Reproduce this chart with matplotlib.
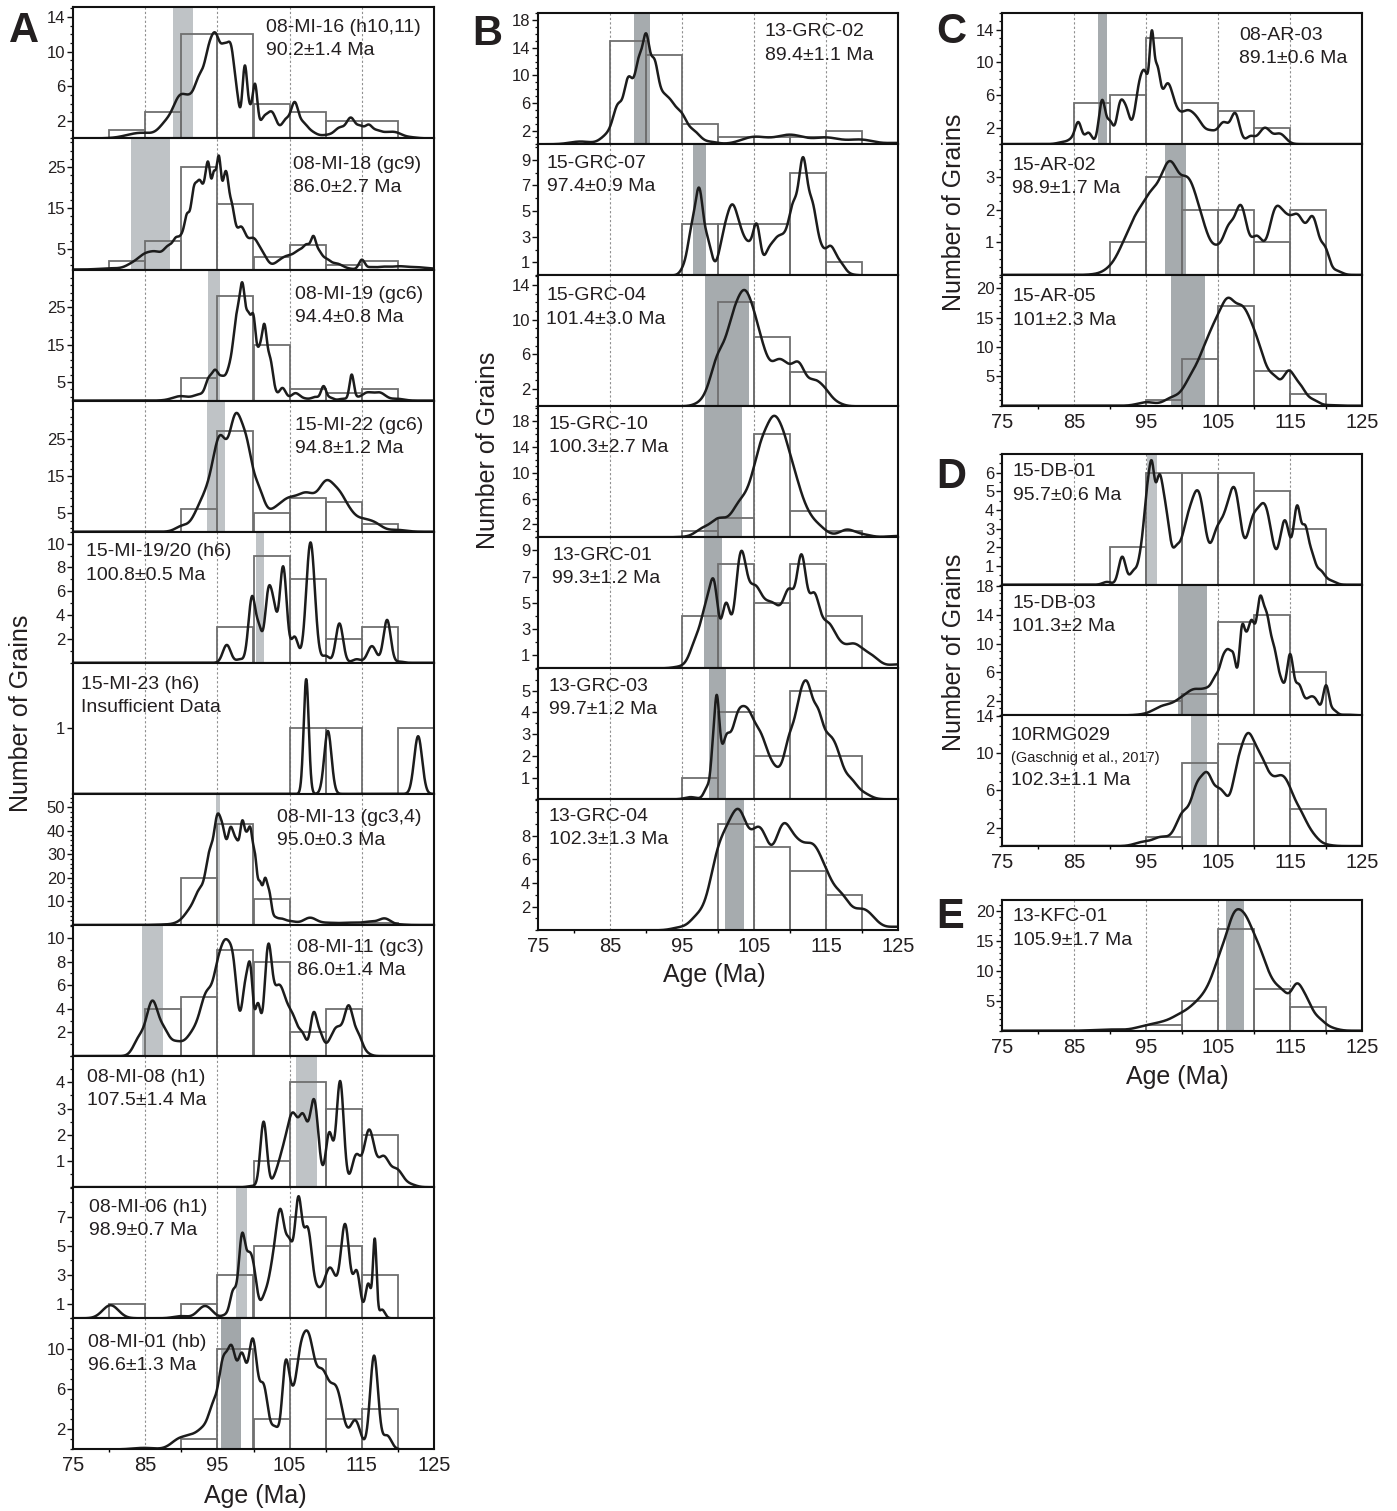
import numpy as np
import matplotlib
matplotlib.use("Agg")
import matplotlib.pyplot as plt
from matplotlib.ticker import FixedLocator, MultipleLocator

plt.rcParams['font.family'] = ['Liberation Sans', 'DejaVu Sans']

# ------------------------------------------------------------------ data
bin_left = [75, 80, 85, 90, 95, 100, 105, 110, 115, 120]
age_ticks = [75, 85, 95, 105, 115, 125]
guide_ages = [85, 95, 105, 115]

# KDE curves: ages (Ma), curve heights, kernel widths (Ma)
# ---- column A
mi16_text = ["08-MI-16 (h10,11)", "90.2±1.4 Ma"]
mi16_counts = [0, 1, 3, 12, 12, 4, 3, 2, 2, 0]
mi16_band = [88.8, 91.6]
mi16_kde_age = [84.5, 88.0, 89.8, 91.3, 92.6, 93.8, 94.8, 96.0, 97.0, 97.8, 98.8, 99.5, 100.2, 101.3, 102.5, 104.5, 105.7, 106.8, 107.9, 110.3, 112.0, 113.5, 114.8, 115.9, 117.0, 118.5, 119.8, 121.5]
mi16_kde_h = [0.65, 2.3, 5.0, 5.2, 7.5, 10.8, 12.1, 11.0, 10.3, 5.0, 8.4, 4.0, 6.3, 2.4, 3.1, 2.3, 4.2, 2.0, 1.0, 0.45, 1.3, 2.4, 1.5, 1.6, 1.0, 0.75, 0.7, 0.2]
mi16_kde_w = [2.0, 1.0, 0.9, 0.8, 0.7, 0.6, 0.6, 0.6, 0.5, 0.35, 0.35, 0.3, 0.35, 0.5, 0.7, 0.6, 0.5, 0.6, 0.8, 1.0, 0.7, 0.6, 0.5, 0.5, 0.7, 0.8, 0.8, 1.0]

mi18_text = ["08-MI-18 (gc9)", "86.0±2.7 Ma"]
mi18_counts = [0, 2, 7, 25, 16, 3, 6, 1, 2, 0]
mi18_band = [83.1, 88.4]
mi18_kde_age = [80.2, 83.4, 85.0, 86.6, 88.3, 89.4, 90.2, 90.8, 91.7, 92.6, 93.3, 93.8, 94.5, 95.2, 95.9, 96.3, 96.9, 98.2, 100.0, 101.4, 102.3, 103.7, 105.1, 106.5, 107.5, 108.3, 109.0, 110.0, 111.5, 113.0, 115.0, 116.2, 118.0, 120.3, 122.5, 124.5]
mi18_kde_h = [0.3, 2.0, 4.0, 4.4, 6.0, 8.0, 9.5, 13.7, 20.0, 21.8, 23.0, 25.8, 24.0, 27.8, 22.6, 23.5, 17.0, 10.5, 7.7, 4.0, 1.6, 2.5, 3.6, 5.0, 6.2, 8.2, 5.0, 2.8, 1.5, 0.4, 2.4, 0.6, 0.7, 0.8, 0.6, 0.3]
mi18_kde_w = [1.5, 1.0, 0.9, 0.9, 0.7, 0.5, 0.4, 0.35, 0.45, 0.45, 0.35, 0.35, 0.3, 0.35, 0.3, 0.3, 0.45, 0.7, 0.8, 0.6, 0.7, 0.9, 0.9, 0.7, 0.5, 0.35, 0.45, 0.6, 0.8, 0.8, 0.4, 0.6, 1.0, 1.0, 1.0, 1.0]

mi19_text = ["08-MI-19 (gc6)", "94.4±0.8 Ma"]
mi19_counts = [0, 0, 0, 6, 28, 15, 3, 2, 3, 0]
mi19_band = [93.7, 95.3]
mi19_kde_age = [88.0, 89.9, 92.6, 93.8, 94.7, 95.6, 96.8, 97.7, 98.5, 99.3, 100.0, 100.8, 101.5, 102.3, 103.0, 104.0, 104.6, 105.8, 107.2, 108.6, 109.7, 110.6, 112.5, 113.6, 114.3, 115.7, 117.5, 119.9]
mi19_kde_h = [0.3, 1.2, 1.8, 6.3, 8.3, 6.7, 11.2, 24.0, 31.5, 23.8, 23.0, 14.8, 20.6, 11.7, 3.6, 3.4, 1.8, 2.0, 0.6, 1.0, 3.9, 0.9, 0.5, 7.0, 1.3, 2.2, 2.2, 0.5]
mi19_kde_w = [1.2, 1.1, 0.9, 0.45, 0.45, 0.45, 0.6, 0.45, 0.4, 0.35, 0.35, 0.35, 0.35, 0.4, 0.4, 0.45, 0.45, 0.6, 0.7, 0.5, 0.35, 0.45, 0.7, 0.3, 0.35, 0.8, 0.8, 0.9]

mi22_text = ["15-MI-22 (gc6)", "94.8±1.2 Ma"]
mi22_counts = [0, 0, 0, 6, 27, 5, 9, 8, 2, 0]
mi22_band = [93.6, 96.0]
mi22_kde_age = [88.9, 90.1, 92.6, 94.0, 95.4, 97.5, 99.1, 100.7, 102.5, 104.6, 107.4, 110.2, 112.0, 113.4, 115.0, 116.6, 119.9]
mi22_kde_h = [0.1, 1.9, 8.1, 16.0, 26.0, 31.8, 25.0, 12.6, 6.2, 9.0, 10.6, 13.9, 10.8, 6.3, 3.7, 2.8, 0.5]
mi22_kde_w = [0.8, 0.9, 1.0, 0.9, 0.9, 0.9, 0.8, 0.8, 1.0, 1.3, 1.4, 1.1, 0.9, 0.9, 0.9, 1.1, 1.2]

mi1920_text = ["15-MI-19/20 (h6)", "100.8±0.5 Ma"]
mi1920_counts = [0, 0, 0, 0, 3, 9, 7, 2, 3, 0]
mi1920_band = [100.4, 101.4]
mi1920_kde_age = [92.2, 96.3, 98.1, 99.8, 100.8, 102.1, 102.9, 104.1, 105.7, 107.9, 110.0, 111.9, 114.3, 116.4, 118.5, 120.3]
mi1920_kde_h = [0.0, 1.5, 0.3, 5.6, 3.2, 6.4, 5.0, 8.1, 2.2, 10.1, 0.6, 3.3, 0.3, 1.4, 3.6, 0.1]
mi1920_kde_w = [1.0, 0.55, 0.5, 0.5, 0.4, 0.5, 0.4, 0.5, 0.5, 0.6, 0.5, 0.5, 0.6, 0.6, 0.5, 0.5]

mi23_text = ["15-MI-23 (h6)", "Insufficient Data"]
mi23_counts = [0, 0, 0, 0, 0, 0, 1, 1, 0, 1]
mi23_band = None
mi23_kde_age = [107.3, 110.3, 122.8]
mi23_kde_h = [1.75, 0.96, 0.88]
mi23_kde_w = [0.35, 0.5, 0.55]

mi13_text = ["08-MI-13 (gc3,4)", "95.0±0.3 Ma"]
mi13_counts = [0, 0, 0, 20, 43, 11, 0, 0, 1, 0]
mi13_band = [94.8, 95.3]
mi13_kde_age = [80.2, 88.0, 90.1, 91.3, 92.6, 94.0, 95.0, 95.8, 96.8, 97.7, 98.5, 99.1, 99.6, 100.2, 100.9, 101.6, 102.2, 102.9, 103.7, 105.1, 107.8, 110.2, 113.4, 116.2, 118.2, 120.3]
mi13_kde_h = [0.0, 0.3, 3.0, 8.0, 15.8, 32.7, 47.0, 41.5, 41.5, 36.2, 44.4, 39.7, 41.1, 30.6, 18.6, 20.0, 14.4, 3.8, 2.8, 1.7, 3.1, 1.0, 1.0, 1.5, 2.8, 0.3]
mi13_kde_w = [2.0, 1.5, 0.9, 0.8, 0.7, 0.6, 0.45, 0.45, 0.45, 0.45, 0.35, 0.3, 0.3, 0.3, 0.3, 0.3, 0.3, 0.35, 0.6, 0.9, 0.9, 1.2, 1.4, 1.0, 0.8, 0.8]

mi11_text = ["08-MI-11 (gc3)", "86.0±1.4 Ma"]
mi11_counts = [0, 0, 4, 5, 9, 8, 2, 4, 0, 0]
mi11_band = [84.6, 87.4]
mi11_kde_age = [79.9, 84.2, 86.0, 87.6, 89.2, 91.7, 93.6, 95.2, 96.2, 97.2, 98.9, 99.6, 100.6, 102.0, 103.2, 104.1, 105.5, 106.9, 108.3, 109.2, 110.4, 111.6, 113.2, 114.5, 115.7]
mi11_kde_h = [0.0, 1.8, 4.7, 2.5, 1.3, 2.4, 5.6, 8.6, 9.9, 8.4, 6.6, 7.6, 4.5, 9.4, 6.0, 5.5, 3.5, 1.9, 3.7, 2.2, 1.3, 2.5, 4.3, 2.0, 0.4]
mi11_kde_w = [1.0, 0.8, 0.8, 0.7, 0.9, 1.1, 0.9, 0.7, 0.6, 0.6, 0.5, 0.35, 0.4, 0.5, 0.8, 0.8, 0.8, 0.5, 0.45, 0.5, 0.6, 0.8, 0.6, 0.6, 0.6]

mi08_text = ["08-MI-08 (h1)", "107.5±1.4 Ma"]
mi08_counts = [0, 0, 0, 0, 0, 1, 4, 3, 2, 0]
mi08_band = [105.9, 108.8]
mi08_kde_age = [99.8, 101.4, 103.0, 104.2, 105.5, 106.9, 108.4, 110.5, 112.0, 114.2, 116.0, 118.0, 119.9, 121.7]
mi08_kde_h = [0.05, 2.5, 0.55, 1.7, 2.85, 2.8, 3.35, 2.1, 4.05, 1.25, 2.2, 1.2, 0.7, 0.15]
mi08_kde_w = [0.6, 0.45, 0.5, 0.8, 0.7, 0.6, 0.6, 0.5, 0.5, 0.6, 0.7, 0.8, 0.8, 0.8]

mi06_text = ["08-MI-06 (h1)", "98.9±0.7 Ma"]
mi06_counts = [0, 1, 0, 1, 3, 5, 7, 5, 3, 0]
mi06_band = [97.6, 99.1]
mi06_kde_age = [75.0, 80.2, 84.8, 89.9, 93.3, 96.1, 97.2, 98.4, 99.3, 100.0, 101.4, 102.7, 103.8, 105.0, 106.2, 107.5, 108.8, 110.6, 112.7, 114.3, 115.9, 116.8, 117.8, 119.2]
mi06_kde_h = [0.0, 0.9, 0.0, 0.15, 0.85, 0.3, 2.0, 5.85, 4.6, 3.8, 1.6, 4.5, 7.5, 5.5, 8.4, 6.3, 2.3, 3.5, 6.5, 3.3, 2.4, 5.5, 0.6, 0.0]
mi06_kde_w = [1.0, 1.1, 1.0, 1.0, 1.0, 0.5, 0.45, 0.45, 0.45, 0.5, 0.5, 0.7, 0.6, 0.5, 0.5, 0.6, 0.6, 0.9, 0.6, 0.5, 0.4, 0.25, 0.4, 0.6]

mi01_text = ["08-MI-01 (hb)", "96.6±1.3 Ma"]
mi01_counts = [0, 0, 0, 1, 10, 3, 9, 3, 4, 0]
mi01_band = [95.5, 98.2]
mi01_kde_age = [80.2, 84.8, 89.9, 91.7, 93.1, 94.5, 95.8, 97.0, 98.4, 99.9, 101.4, 103.0, 104.4, 105.1, 106.3, 107.6, 109.5, 111.5, 114.1, 116.7, 118.5, 120.1]
mi01_kde_h = [0.0, 0.15, 1.2, 1.6, 2.4, 4.9, 9.2, 10.3, 9.6, 11.0, 6.5, 2.3, 8.7, 7.0, 9.5, 11.6, 8.0, 6.2, 2.9, 9.3, 1.4, 0.0]
mi01_kde_w = [1.5, 1.5, 1.2, 0.9, 0.8, 0.7, 0.6, 0.6, 0.6, 0.6, 0.6, 0.6, 0.45, 0.45, 0.7, 0.8, 0.9, 0.9, 0.7, 0.55, 0.6, 0.8]

# ---- column B
grc02_text = ["13-GRC-02", "89.4±1.1 Ma"]
grc02_counts = [0, 0, 15, 13, 3, 1, 1, 1, 2, 0]
grc02_band = [88.4, 90.6]
grc02_kde_age = [75.0, 80.9, 84.8, 86.2, 87.4, 88.1, 89.0, 90.0, 91.1, 92.2, 93.4, 94.8, 96.6, 98.9, 100.1, 105.0, 110.0, 115.1, 119.8, 125.0]
grc02_kde_h = [0.0, 0.4, 2.1, 6.0, 9.5, 9.6, 12.7, 16.1, 12.5, 7.9, 6.5, 4.8, 2.1, 0.4, 0.2, 1.1, 1.4, 1.0, 0.7, 0.2]
grc02_kde_w = [2.0, 1.5, 1.0, 0.7, 0.5, 0.5, 0.5, 0.5, 0.55, 0.7, 0.7, 0.8, 0.9, 1.0, 1.0, 1.8, 2.0, 1.8, 1.8, 1.5]

grc07_text = ["15-GRC-07", "97.4±0.9 Ma"]
grc07_counts = [0, 0, 0, 0, 4, 4, 4, 8, 1, 0]
grc07_band = [96.5, 98.4]
grc07_kde_age = [93.8, 95.2, 96.4, 97.4, 98.5, 99.6, 100.8, 102.0, 103.2, 104.4, 105.4, 106.9, 108.2, 109.5, 110.5, 111.8, 113.1, 114.2, 115.6, 117.0, 118.6]
grc07_kde_h = [0.0, 0.85, 4.2, 6.8, 3.2, 0.7, 3.7, 5.5, 3.7, 2.7, 4.0, 2.0, 3.0, 3.7, 5.8, 9.2, 5.8, 2.7, 2.3, 1.1, 0.1]
grc07_kde_w = [0.6, 0.5, 0.6, 0.5, 0.6, 0.5, 0.7, 0.7, 0.7, 0.6, 0.5, 0.6, 0.8, 0.7, 0.6, 0.6, 0.6, 0.6, 0.7, 0.7, 0.6]

grc04_text = ["15-GRC-04", "101.4±3.0 Ma"]
grc04_counts = [0, 0, 0, 0, 0, 12, 8, 4, 0, 0]
grc04_band = [98.2, 104.3]
grc04_kde_age = [95.7, 98.0, 100.1, 102.2, 103.7, 105.0, 106.3, 108.2, 109.6, 111.2, 113.3, 114.9, 116.5, 119.8]
grc04_kde_h = [0.0, 1.3, 6.3, 11.2, 13.4, 11.0, 7.1, 5.4, 5.0, 5.1, 3.1, 2.1, 0.6, 0.0]
grc04_kde_w = [1.0, 1.1, 1.1, 1.0, 0.9, 0.9, 0.9, 1.0, 0.9, 0.9, 1.0, 0.9, 0.9, 1.0]

grc10_text = ["15-GRC-10", "100.3±2.7 Ma"]
grc10_counts = [0, 0, 0, 0, 1, 3, 16, 4, 1, 0]
grc10_band = [98.0, 103.3]
grc10_kde_age = [95.2, 98.0, 100.1, 101.7, 103.1, 105.0, 106.3, 107.7, 109.1, 110.5, 111.9, 113.7, 115.1, 117.9, 120.2, 125.0]
grc10_kde_h = [0.1, 1.6, 3.0, 3.6, 5.9, 11.0, 16.0, 18.8, 16.4, 11.0, 5.9, 2.4, 1.0, 1.2, 0.5, 0.2]
grc10_kde_w = [1.0, 1.1, 1.0, 0.9, 1.0, 1.0, 0.9, 0.9, 0.9, 0.9, 1.0, 1.0, 0.9, 1.1, 1.1, 1.5]

grc01_text = ["13-GRC-01", "99.3±1.2 Ma"]
grc01_counts = [0, 0, 0, 0, 4, 8, 5, 8, 4, 0]
grc01_band = [98.1, 100.6]
grc01_kde_age = [89.9, 94.8, 97.1, 98.5, 99.5, 101.1, 103.1, 105.0, 107.3, 108.7, 110.0, 111.6, 113.3, 115.1, 116.5, 118.8, 121.2, 125.0]
grc01_kde_h = [0.0, 0.2, 2.7, 5.5, 6.6, 5.0, 8.8, 6.4, 5.1, 4.9, 6.1, 8.7, 5.8, 3.6, 2.5, 1.9, 1.1, 0.3]
grc01_kde_w = [1.5, 1.0, 0.9, 0.7, 0.55, 0.6, 0.75, 1.1, 1.1, 0.9, 0.8, 0.65, 0.8, 0.9, 1.0, 1.2, 1.2, 1.3]

grc03_text = ["13-GRC-03", "99.7±1.2 Ma"]
grc03_counts = [0, 0, 0, 0, 1, 4, 2, 5, 2, 0]
grc03_band = [98.7, 101.1]
grc03_kde_age = [96.2, 98.6, 99.3, 99.8, 100.2, 101.0, 102.6, 104.2, 105.9, 107.3, 108.4, 110.0, 111.4, 112.5, 113.8, 115.1, 116.5, 118.4, 120.2, 125.0]
grc03_kde_h = [0.1, 0.7, 2.9, 4.8, 3.6, 2.85, 3.9, 4.15, 3.1, 1.9, 1.5, 3.1, 4.9, 5.35, 4.25, 3.1, 2.4, 1.0, 0.35, 0.0]
grc03_kde_w = [0.8, 0.5, 0.3, 0.3, 0.3, 0.6, 0.9, 0.9, 0.9, 0.8, 0.8, 0.8, 0.7, 0.7, 0.7, 0.9, 0.9, 0.9, 1.0, 1.0]

grc04b_text = ["13-GRC-04", "102.3±1.3 Ma"]
grc04b_counts = [0, 0, 0, 0, 0, 9, 7, 5, 3, 0]
grc04b_band = [101.0, 103.6]
grc04b_kde_age = [89.9, 94.8, 97.1, 98.9, 100.1, 101.5, 103.1, 105.0, 106.3, 108.9, 111.0, 112.3, 113.5, 115.1, 117.0, 120.2, 125.0]
grc04b_kde_h = [0.0, 0.3, 1.4, 4.2, 7.2, 9.2, 10.1, 8.6, 8.3, 8.9, 7.8, 7.4, 7.1, 5.1, 3.25, 1.8, 0.3]
grc04b_kde_w = [1.5, 1.2, 1.0, 1.0, 1.0, 1.0, 1.1, 1.0, 1.1, 1.2, 1.2, 1.1, 1.1, 1.0, 1.2, 1.5, 1.5]

# ---- column C
ar03_text = ["08-AR-03", "89.1±0.6 Ma"]
ar03_counts = [0, 0, 5, 6, 13, 5, 4, 2, 0, 0]
ar03_band = [88.4, 89.6]
ar03_kde_age = [80.3, 83.6, 84.7, 85.6, 87.0, 88.9, 90.0, 91.4, 92.3, 94.2, 95.1, 95.8, 96.5, 97.9, 99.3, 100.7, 102.1, 104.1, 105.8, 107.4, 109.5, 111.5, 113.6, 115.2]
ar03_kde_h = [0.0, 0.3, 0.9, 2.7, 1.4, 5.4, 2.9, 5.2, 4.5, 8.2, 8.6, 13.9, 9.8, 7.4, 4.55, 4.15, 3.3, 1.7, 2.7, 3.8, 1.0, 2.0, 1.3, 0.1]
ar03_kde_w = [1.0, 0.8, 0.5, 0.45, 0.5, 0.45, 0.45, 0.5, 0.5, 0.7, 0.5, 0.3, 0.45, 0.8, 0.8, 0.8, 0.9, 0.8, 0.7, 0.6, 0.6, 0.8, 0.8, 0.7]

ar02_text = ["15-AR-02", "98.9±1.7 Ma"]
ar02_counts = [0, 0, 0, 1, 3, 2, 2, 1, 2, 0]
ar02_band = [97.6, 100.5]
ar02_kde_age = [84.9, 88.2, 90.0, 91.9, 93.7, 95.6, 97.4, 98.8, 100.7, 102.1, 103.4, 104.9, 106.5, 108.2, 110.4, 112.9, 114.5, 116.2, 118.2, 119.9, 121.5]
ar02_kde_h = [0.0, 0.05, 0.3, 1.05, 1.9, 2.55, 3.2, 3.4, 3.0, 2.3, 1.35, 0.93, 1.55, 2.13, 1.2, 2.03, 1.88, 1.83, 1.78, 0.86, 0.14]
ar02_kde_w = [1.0, 1.0, 1.0, 1.1, 1.1, 1.1, 1.1, 1.1, 1.0, 1.0, 0.9, 0.8, 0.8, 0.8, 0.9, 0.9, 0.9, 0.9, 0.8, 0.6, 0.7]

ar05_text = ["15-AR-05", "101±2.3 Ma"]
ar05_counts = [0, 0, 0, 0, 1, 8, 17, 6, 2, 0]
ar05_band = [98.5, 103.2]
ar05_kde_age = [91.9, 95.1, 98.4, 99.5, 101.1, 103.0, 104.8, 106.5, 108.3, 109.9, 111.3, 112.9, 114.8, 116.4, 118.2, 120.6]
ar05_kde_h = [0.0, 0.6, 1.4, 2.1, 5.1, 10.0, 15.1, 18.4, 17.1, 13.4, 8.3, 5.1, 6.0, 3.7, 1.1, 0.1]
ar05_kde_w = [1.0, 1.2, 1.0, 0.9, 1.0, 1.1, 1.1, 1.0, 1.0, 1.0, 0.9, 0.8, 0.8, 0.8, 0.8, 1.0]

# ---- column D
db01_text = ["15-DB-01", "95.7±0.6 Ma"]
db01_counts = [0, 0, 0, 2, 6, 6, 6, 5, 3, 0]
db01_band = [95.1, 96.5]
db01_kde_age = [88.2, 89.6, 91.7, 93.3, 94.4, 95.1, 95.8, 96.7, 97.4, 98.1, 99.1, 100.7, 102.4, 104.7, 106.0, 107.4, 109.7, 111.5, 114.3, 116.0, 117.1, 118.0, 119.2, 120.6, 123.4]
db01_kde_h = [0.0, 0.15, 1.5, 0.8, 2.4, 5.1, 6.65, 5.8, 5.1, 3.3, 2.07, 3.65, 4.9, 2.95, 4.0, 5.1, 3.55, 4.3, 3.45, 4.25, 3.2, 1.85, 0.8, 0.25, 0.0]
db01_kde_w = [0.8, 0.6, 0.5, 0.5, 0.45, 0.4, 0.4, 0.45, 0.5, 0.45, 0.5, 0.95, 0.9, 0.7, 0.8, 0.8, 0.8, 1.0, 0.7, 0.5, 0.45, 0.5, 0.6, 0.7, 1.0]

db03_text = ["15-DB-03", "101.3±2 Ma"]
db03_counts = [0, 0, 0, 0, 2, 3, 13, 14, 6, 0]
db03_band = [99.5, 103.45]
db03_kde_age = [90.0, 94.9, 97.4, 100.2, 102.1, 103.7, 104.8, 105.8, 106.5, 107.2, 108.3, 109.0, 109.7, 110.8, 111.8, 112.8, 113.8, 115.0, 116.2, 117.8, 118.7, 120.0, 121.0, 122.9]
db03_kde_h = [0.0, 0.3, 1.4, 2.8, 3.7, 4.05, 5.8, 8.6, 9.2, 8.4, 12.4, 11.7, 13.3, 16.5, 14.2, 9.6, 5.1, 8.55, 4.4, 2.6, 2.1, 4.2, 0.9, 0.1]
db03_kde_w = [1.2, 1.3, 1.3, 1.3, 1.1, 0.8, 0.6, 0.5, 0.4, 0.4, 0.4, 0.4, 0.45, 0.5, 0.5, 0.5, 0.5, 0.45, 0.55, 0.7, 0.5, 0.4, 0.5, 0.8]

rmg_text = ["10RMG029", "(Gaschnig et al., 2017)", "102.3±1.1 Ma"]
rmg_counts = [0, 0, 0, 0, 1, 9, 11, 9, 4, 0]
rmg_band = [101.3, 103.45]
rmg_kde_age = [90.0, 94.7, 97.0, 98.4, 100.2, 102.1, 103.6, 105.1, 106.0, 107.6, 109.2, 110.8, 112.2, 113.6, 114.8, 116.4, 118.2, 120.1]
rmg_kde_h = [0.0, 0.5, 1.0, 1.3, 3.8, 6.9, 7.9, 6.3, 5.6, 8.8, 12.2, 10.1, 7.9, 7.65, 6.7, 4.0, 1.45, 0.2]
rmg_kde_w = [1.2, 1.2, 1.0, 1.0, 1.0, 0.8, 0.8, 0.7, 0.6, 0.9, 0.9, 0.9, 0.9, 0.9, 0.9, 1.0, 0.9, 0.9]

# ---- column E
kfc_text = ["13-KFC-01", "105.9±1.7 Ma"]
kfc_counts = [0, 0, 0, 0, 1, 5, 17, 7, 4, 0]
kfc_band = [106.1, 108.6]
kfc_kde_age = [84.9, 90.0, 95.1, 97.4, 99.7, 102.1, 103.9, 105.3, 106.7, 107.5, 108.8, 110.4, 111.8, 113.2, 114.3, 115.9, 117.3, 118.9, 120.6, 125.0]
kfc_kde_h = [0.0, 0.2, 0.95, 1.6, 2.9, 5.1, 8.5, 13.2, 18.3, 20.2, 19.4, 15.2, 10.7, 7.7, 6.5, 7.9, 5.7, 2.35, 0.7, 0.0]
kfc_kde_w = [2.0, 2.0, 1.5, 1.3, 1.3, 1.3, 1.1, 1.0, 1.0, 0.9, 1.0, 1.0, 1.0, 0.9, 0.8, 0.8, 0.8, 0.9, 1.0, 1.5]

# ------------------------------------------------------------------ style / layout
W, H, DPI = 1397, 1511, 100
LIGHT = '#bfc3c6'
DARK = '#a6abae'
MID = '#b3b8bb'
BAR_EC = '#6f6f6f'
CURVE = '#1c1c1c'
TXT = '#231f20'

fig = plt.figure(figsize=(W / DPI, H / DPI), dpi=DPI)


def kde_curve(x, ages, heights, widths):
    """Sum of Gaussian kernels whose non-negative weights make the curve
    pass (in a least-squares sense) through the heights read off the figure."""
    c = np.asarray(ages, float)
    h = np.asarray(heights, float)
    s = np.asarray(widths, float)
    A = np.exp(-0.5 * ((c[:, None] - c[None, :]) / s[None, :]) ** 2)
    a = h.copy() + 1e-9 * (h > 0)
    AtA = A.T @ A
    Ath = A.T @ h
    for _ in range(30000):
        a *= Ath / (AtA @ a + 1e-12)
    return (a[None, :] * np.exp(-0.5 * ((x[:, None] - c[None, :]) / s[None, :]) ** 2)).sum(1)


def add_px_axes(x0, x1, y0, y1):
    return fig.add_axes([x0 / W, 1 - y1 / H, (x1 - x0) / W, (y1 - y0) / H])


def panel(x0, x1, y0, y1, text, counts, band, pa, ph, pw, ymax, majors, minor,
          band_color, tx, ty, bottom=False, small_second=False):
    ax = add_px_axes(x0, x1, y0, y1)
    ax.set_xlim(75, 125)
    ax.set_ylim(0, ymax)
    for g in guide_ages:
        ax.axvline(g, color='#8f8f8f', lw=0.8, ls=(0, (2, 2)), zorder=0)
    if band is not None:
        ax.axvspan(band[0], band[1], color=band_color, lw=0, zorder=1)
    left = [l for l, c in zip(bin_left, counts) if c > 0]
    hts = [c for c in counts if c > 0]
    ax.bar(left, hts, width=5, align='edge', fill=False, edgecolor=BAR_EC,
           linewidth=1.3, zorder=2)
    x = np.linspace(75, 125, 2001)
    ax.plot(x, kde_curve(x, pa, ph, pw), color=CURVE, lw=1.8, zorder=3,
            solid_capstyle='round')
    for sp in ax.spines.values():
        sp.set_linewidth(1.5)
        sp.set_color('#111111')
        sp.set_zorder(5)
    ax.yaxis.set_major_locator(FixedLocator(majors))
    if minor is not None:
        ax.yaxis.set_minor_locator(minor)
    ax.tick_params(axis='y', which='major', direction='out', length=4, width=1,
                   pad=1.5, labelsize=12, colors='#111111', labelcolor=TXT)
    ax.tick_params(axis='y', which='minor', direction='out', length=2.2, width=0.9,
                   colors='#111111')
    ax.set_xticks(age_ticks)
    ax.xaxis.set_minor_locator(FixedLocator([80, 90, 100, 110, 120]))
    ax.tick_params(axis='x', which='minor', direction='out', length=2.5, width=1)
    if bottom:
        ax.tick_params(axis='x', which='major', length=0, pad=5, labelsize=14.5,
                       labelcolor=TXT)
    else:
        ax.tick_params(axis='x', which='major', length=0, labelbottom=False)
    yy = y0 + ty - 1.5
    fig.text(tx / W, 1 - yy / H, text[0], fontsize=14, color=TXT, va='top', ha='left')
    if small_second:
        fig.text(tx / W, 1 - (yy + 24) / H, text[1], fontsize=10.5, color=TXT,
                 va='top', ha='left')
        fig.text(tx / W, 1 - (yy + 45) / H, text[2], fontsize=14, color=TXT,
                 va='top', ha='left')
    else:
        fig.text(tx / W, 1 - (yy + 23.5) / H, text[1], fontsize=14, color=TXT,
                 va='top', ha='left')
    return ax


def odd_minor(top):
    return FixedLocator(np.arange(1, top, 2))


# ---- column A
A_x0, A_x1 = 73, 434
A_top, A_h = 7.3, 131.1
colA = [
    (mi16_text, mi16_counts, mi16_band, mi16_kde_age, mi16_kde_h, mi16_kde_w, 15.1, [2, 6, 10, 14], MultipleLocator(1), LIGHT, 266, 12.7),
    (mi18_text, mi18_counts, mi18_band, mi18_kde_age, mi18_kde_h, mi18_kde_w, 32.0, [5, 15, 25], odd_minor(32), LIGHT, 293, 19),
    (mi19_text, mi19_counts, mi19_band, mi19_kde_age, mi19_kde_h, mi19_kde_w, 35.2, [5, 15, 25], odd_minor(35), LIGHT, 295, 17.7),
    (mi22_text, mi22_counts, mi22_band, mi22_kde_age, mi22_kde_h, mi22_kde_w, 35.3, [5, 15, 25], odd_minor(35), LIGHT, 295, 17.7),
    (mi1920_text, mi1920_counts, mi1920_band, mi1920_kde_age, mi1920_kde_h, mi1920_kde_w, 11.0, [2, 4, 6, 8, 10], MultipleLocator(1), LIGHT, 86, 13.3),
    (mi23_text, mi23_counts, mi23_band, mi23_kde_age, mi23_kde_h, mi23_kde_w, 2.0, [1], None, LIGHT, 81, 14.7),
    (mi13_text, mi13_counts, mi13_band, mi13_kde_age, mi13_kde_h, mi13_kde_w, 55.6, [10, 20, 30, 40, 50], MultipleLocator(2), LIGHT, 277, 16.3),
    (mi11_text, mi11_counts, mi11_band, mi11_kde_age, mi11_kde_h, mi11_kde_w, 11.1, [2, 4, 6, 8, 10], MultipleLocator(1), LIGHT, 297, 15.3),
    (mi08_text, mi08_counts, mi08_band, mi08_kde_age, mi08_kde_h, mi08_kde_w, 5.0, [1, 2, 3, 4], MultipleLocator(0.5), LIGHT, 87, 14),
    (mi06_text, mi06_counts, mi06_band, mi06_kde_age, mi06_kde_h, mi06_kde_w, 9.04, [1, 3, 5, 7], MultipleLocator(1), LIGHT, 89, 13),
    (mi01_text, mi01_counts, mi01_band, mi01_kde_age, mi01_kde_h, mi01_kde_w, 13.0, [2, 6, 10], MultipleLocator(1), '#a2a7aa', 88, 17),
]
for i, p in enumerate(colA):
    y0 = A_top + i * A_h
    panel(A_x0, A_x1, y0, y0 + A_h, *p, bottom=(i == len(colA) - 1))

# ---- column B
B_x0, B_x1 = 538, 898
B_top, B_h = 13.3, 131.0
colB = [
    (grc02_text, grc02_counts, grc02_band, grc02_kde_age, grc02_kde_h, grc02_kde_w, 19.0, [2, 6, 10, 14, 18], MultipleLocator(1), DARK, 765, 11.7),
    (grc07_text, grc07_counts, grc07_band, grc07_kde_age, grc07_kde_h, grc07_kde_w, 10.2, [1, 3, 5, 7, 9], MultipleLocator(1), DARK, 547, 12),
    (grc04_text, grc04_counts, grc04_band, grc04_kde_age, grc04_kde_h, grc04_kde_w, 15.1, [2, 6, 10, 14], MultipleLocator(1), DARK, 546, 13.3),
    (grc10_text, grc10_counts, grc10_band, grc10_kde_age, grc10_kde_h, grc10_kde_w, 20.3, [2, 6, 10, 14, 18], MultipleLocator(1), DARK, 549, 11),
    (grc01_text, grc01_counts, grc01_band, grc01_kde_age, grc01_kde_h, grc01_kde_w, 10.0, [1, 3, 5, 7, 9], MultipleLocator(1), DARK, 552, 11),
    (grc03_text, grc03_counts, grc03_band, grc03_kde_age, grc03_kde_h, grc03_kde_w, 6.03, [1, 2, 3, 4, 5], MultipleLocator(0.5), DARK, 549, 11),
    (grc04b_text, grc04b_counts, grc04b_band, grc04b_kde_age, grc04b_kde_h, grc04b_kde_w, 11.06, [2, 4, 6, 8], MultipleLocator(1), DARK, 549, 10),
]
for i, p in enumerate(colB):
    y0 = B_top + i * B_h
    panel(B_x0, B_x1, y0, y0 + B_h, *p, bottom=(i == len(colB) - 1))

# ---- columns C, D, E
C_x0, C_x1 = 1002, 1362
colC = [
    (ar03_text, ar03_counts, ar03_band, ar03_kde_age, ar03_kde_h, ar03_kde_w, 16.0, [2, 6, 10, 14], MultipleLocator(1), DARK, 1239, 15),
    (ar02_text, ar02_counts, ar02_band, ar02_kde_age, ar02_kde_h, ar02_kde_w, 4.0, [1, 2, 3], MultipleLocator(0.25), DARK, 1012, 14.3),
    (ar05_text, ar05_counts, ar05_band, ar05_kde_age, ar05_kde_h, ar05_kde_w, 22.3, [5, 10, 15, 20], MultipleLocator(1), DARK, 1013, 14.7),
]
for i, p in enumerate(colC):
    y0 = 13.3 + i * 130.8
    panel(C_x0, C_x1, y0, y0 + 130.8, *p, bottom=(i == len(colC) - 1))

colD = [
    (db01_text, db01_counts, db01_band, db01_kde_age, db01_kde_h, db01_kde_w, 7.0, [1, 2, 3, 4, 5, 6], MultipleLocator(0.5), LIGHT, 1013, 11),
    (db03_text, db03_counts, db03_band, db03_kde_age, db03_kde_h, db03_kde_w, 18.2, [2, 6, 10, 14, 18], MultipleLocator(1), DARK, 1012, 11.7),
    (rmg_text, rmg_counts, rmg_band, rmg_kde_age, rmg_kde_h, rmg_kde_w, 14.1, [2, 6, 10, 14], MultipleLocator(1), MID, 1011, 13.3),
]
for i, p in enumerate(colD):
    y0 = 454 + i * 130.7
    panel(C_x0, C_x1, y0, y0 + 130.7, *p, bottom=(i == len(colD) - 1),
          small_second=(i == 2))

panel(C_x0, C_x1, 900, 1030.7, kfc_text, kfc_counts, kfc_band, kfc_kde_age,
      kfc_kde_h, kfc_kde_w, 21.9, [5, 10, 15, 20], MultipleLocator(1), DARK,
      1013, 10, bottom=True)

# ---- axis titles and panel letters
def ftxt(x, y, s, **kw):
    fig.text(x / W, 1 - y / H, s, color=TXT, **kw)


for (x, y) in [(21, 713), (488, 450), (954, 212), (954, 652)]:
    ftxt(x, y, "Number of Grains", fontsize=18, rotation=90, ha='center', va='center')
for (x, y) in [(255, 1496), (714, 975), (1177, 1077)]:
    ftxt(x, y, "Age (Ma)", fontsize=18, ha='center', va='center')
for (x, y, s) in [(9, 11, "A"), (472, 14, "B"), (936, 12, "C"), (936, 457, "D"), (936, 897, "E")]:
    ftxt(x, y, s, fontsize=30, fontweight='bold', ha='left', va='top')

fig.savefig("out.png", dpi=DPI)
